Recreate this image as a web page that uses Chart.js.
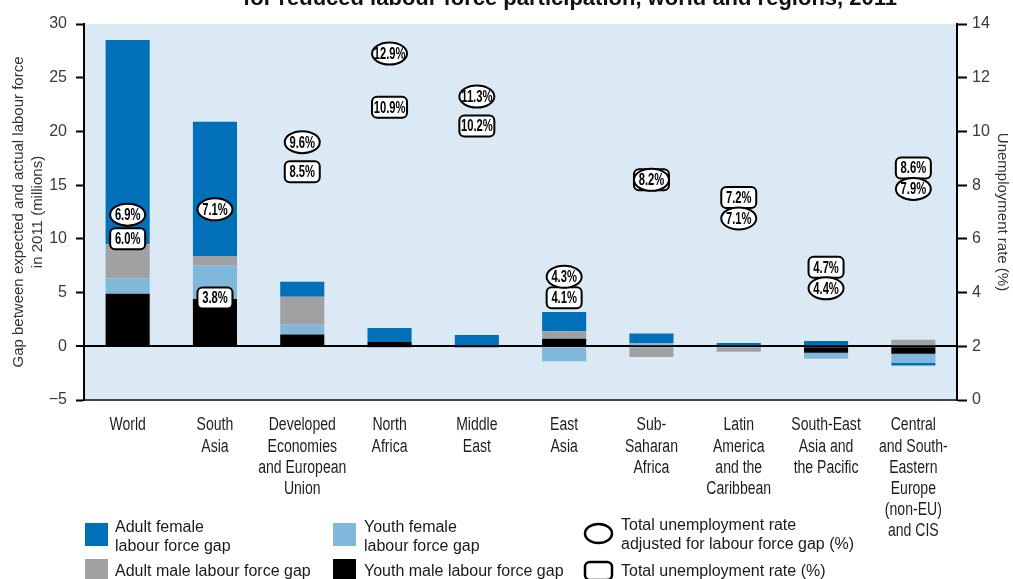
<!DOCTYPE html>
<html><head><meta charset="utf-8">
<script src="https://cdn.jsdelivr.net/npm/chart.js@4"></script>
<style>html,body{margin:0;padding:0;background:#fff;overflow:hidden}#wrap{position:relative;width:1013px;height:579px}</style>
</head><body><div id="wrap"><canvas id="c" width="1013" height="579"></canvas></div>
<script>
const titleText = 'for reduced labour force participation, world and regions, 2011';
const categories = [
  ['World'], ['South', 'Asia'], ['Developed', 'Economies', 'and European', 'Union'],
  ['North', 'Africa'], ['Middle', 'East'], ['East', 'Asia'], ['Sub-', 'Saharan', 'Africa'],
  ['Latin', 'America', 'and the', 'Caribbean'], ['South-East', 'Asia and', 'the Pacific'],
  ['Central', 'and South-', 'Eastern', 'Europe', '(non-EU)', 'and CIS']
];
const youthMale   = [4.9, 4.4, 1.1, 0.4, 0, 0.7, 0, 0, -0.6, -0.7];
const youthFemale = [1.4, 3.1, 0.9, -0.15, 0.1, -1.4, 0.3, 0, -0.55, -0.85];
const adultMale   = [3.2, 0.9, 2.6, 0, -0.15, 0.7, -1.0, -0.5, 0, 0.6];
const adultFemale = [19.0, 12.5, 1.4, 1.3, 0.95, 1.8, 0.9, 0.3, 0.5, -0.25];
const adjustedRate = [6.9, 7.1, 9.6, 12.9, 11.3, 4.3, 8.2, 7.1, 4.4, 7.9];
const totalRate    = [6.0, 3.8, 8.5, 10.9, 10.2, 4.1, 8.2, 7.2, 4.7, 8.6];
const leftTitle = ['Gap between expected and actual labour force', 'in 2011 (millions)'];
const rightTitle = 'Unemployment rate (%)';
const legendAdultFemale = ['Adult female', 'labour force gap'];
const legendYouthFemale = ['Youth female', 'labour force gap'];
const legendAdultMale = ['Adult male labour force gap'];
const legendYouthMale = ['Youth male labour force gap'];
const legendAdjusted = ['Total unemployment rate', 'adjusted for labour force gap (%)'];
const legendTotal = ['Total unemployment rate (%)'];

const C_BLUE = '#0070b8', C_LBLUE = '#80b8dc', C_GREY = '#a0a1a3', C_BLACK = '#000000';
const SANS = '"Liberation Sans", Arial, sans-serif';

function drawEllipse(ctx, x, y, rx, ry, lw) {
  ctx.beginPath(); ctx.ellipse(x, y, rx, ry, 0, 0, Math.PI * 2);
  ctx.fillStyle = '#fff'; ctx.fill(); ctx.lineWidth = lw; ctx.strokeStyle = '#000'; ctx.stroke();
}
function drawRRect(ctx, x, y, w, h, r, lw) {
  ctx.beginPath(); ctx.roundRect(x - w / 2, y - h / 2, w, h, r);
  ctx.fillStyle = '#fff'; ctx.fill(); ctx.lineWidth = lw; ctx.strokeStyle = '#000'; ctx.stroke();
}
function narrowText(ctx, text, x, y, sx) {
  ctx.save(); ctx.translate(x, y); ctx.scale(sx, 1); ctx.fillText(text, 0, 0); ctx.restore();
}

const bgPlugin = {
  id: 'bg',
  beforeDraw(chart) {
    const {ctx, chartArea: a} = chart;
    ctx.save(); ctx.fillStyle = '#dae9f3';
    ctx.fillRect(a.left, a.top, a.right - a.left, a.bottom - a.top);
    ctx.restore();
  }
};

const rateLabels = {
  id: 'rateLabels',
  afterDraw(chart) {
    const ctx = chart.ctx;
    const mE = chart.getDatasetMeta(4), mR = chart.getDatasetMeta(5);
    ctx.save();
    for (let i = 0; i < adjustedRate.length; i++) {
      const x = mE.data[i].x;
      let ye = mE.data[i].y, yr = mR.data[i].y;
      if (adjustedRate[i] !== totalRate[i] && Math.abs(ye - yr) < 21) {
        const mid = (ye + yr) / 2, s = ye < yr ? -1 : 1;
        ye = mid + s * 10.5; yr = mid - s * 10.5;
      }
      drawRRect(ctx, x, yr, 35, 21, 5, 2);
      drawEllipse(ctx, x, ye, 17.5, 11, 2);
      ctx.fillStyle = '#000'; ctx.font = 'bold 16px ' + SANS; ctx.textAlign = 'center'; ctx.textBaseline = 'middle';
      if (adjustedRate[i] === totalRate[i]) {
        narrowText(ctx, adjustedRate[i].toFixed(1) + '%', x, ye + 1, 0.7);
      } else {
        narrowText(ctx, totalRate[i].toFixed(1) + '%', x, yr + 1, 0.7);
        narrowText(ctx, adjustedRate[i].toFixed(1) + '%', x, ye + 1, 0.7);
      }
    }
    // category labels (condensed)
    const xs = chart.scales.x;
    ctx.font = '18px ' + SANS; ctx.fillStyle = '#1e1e1e'; ctx.textAlign = 'center'; ctx.textBaseline = 'middle';
    categories.forEach((lines, i) => {
      const px = xs.getPixelForValue(i);
      lines.forEach((l, k) => narrowText(ctx, l, px, chart.chartArea.bottom + 25.5 + k * 21.2, 0.78));
    });
    // title (partially cropped at top)
    ctx.font = 'bold 22px ' + SANS;
    ctx.textAlign = 'center'; ctx.textBaseline = 'alphabetic'; ctx.fillStyle = '#111';
    ctx.fillText(titleText, 570, 5);
    // legend
    ctx.font = '16px ' + SANS;
    ctx.textAlign = 'left';
    const sq = (x, y, c) => { ctx.fillStyle = c; ctx.fillRect(x, y, 23, 23); };
    const txt = (lines, x, y) => { ctx.fillStyle = '#1a1a1a'; lines.forEach((l, k) => ctx.fillText(l, x, y + k * 19)); };
    sq(85, 523, C_BLUE); txt(legendAdultFemale, 115, 532);
    sq(85, 559, C_GREY); txt(legendAdultMale, 115, 576);
    sq(333, 523, C_LBLUE); txt(legendYouthFemale, 364, 532);
    sq(333, 559, C_BLACK); txt(legendYouthMale, 364, 576);
    drawEllipse(ctx, 598.5, 533.5, 13.5, 9.5, 2.5);
    drawRRect(ctx, 598.5, 571, 27, 18, 5, 2.5);
    ctx.font = '16px ' + SANS;
    txt(legendAdjusted, 621, 530);
    txt(legendTotal, 621, 576);
    ctx.restore();
  }
};

const barDs = (label, data, color) => ({
  type: 'bar', label, data, backgroundColor: color, borderWidth: 0,
  yAxisID: 'y', barPercentage: 0.505, categoryPercentage: 1, stack: 'gap'
});

new Chart(document.getElementById('c'), {
  data: {
    labels: categories,
    datasets: [
      barDs('Youth male labour force gap', youthMale, C_BLACK),
      barDs('Youth female labour force gap', youthFemale, C_LBLUE),
      barDs('Adult male labour force gap', adultMale, C_GREY),
      barDs('Adult female labour force gap', adultFemale, C_BLUE),
      {type: 'line', label: 'Total unemployment rate adjusted for labour force gap (%)', data: adjustedRate, yAxisID: 'y1', showLine: false, pointRadius: 0},
      {type: 'line', label: 'Total unemployment rate (%)', data: totalRate, yAxisID: 'y1', showLine: false, pointRadius: 0}
    ]
  },
  options: {
    responsive: false, animation: false,
    layout: {padding: {top: 24, bottom: 0, left: 0, right: 0}},
    plugins: {legend: {display: false}, tooltip: {enabled: false}, title: {display: false}},
    scales: {
      x: {
        stacked: true, offset: true,
        grid: {display: false, drawTicks: false},
        border: {display: true, color: '#3b4450', width: 2},
        ticks: {display: false},
        afterFit(s) { s.height = 179; }
      },
      y: {
        stacked: true, position: 'left', min: -5, max: 30, z: 1,
        grid: {
          color: c => c.tick && c.tick.value === 0 ? '#000' : 'rgba(0,0,0,0)',
          lineWidth: c => c.tick && c.tick.value === 0 ? 2 : 1,
          tickColor: '#000', tickWidth: 2, tickLength: 8
        },
        border: {display: true, color: '#000', width: 2},
        ticks: {stepSize: 5, padding: 9, color: '#3a3a3a',
          font: {family: SANS, size: 16},
          callback: v => v < 0 ? '\u2212' + Math.abs(v) : String(v)},
        title: {display: true, text: leftTitle, color: '#333', padding: {top: 9, bottom: 0},
          font: {family: SANS, size: 15, lineHeight: 1.3}},
        afterFit(s) { s.width = 84; }
      },
      y1: {
        position: 'right', min: 0, max: 14,
        grid: {drawOnChartArea: false, color: '#000', tickColor: '#000', tickWidth: 2, tickLength: 10},
        border: {display: true, color: '#000', width: 2},
        ticks: {stepSize: 2, padding: 5, color: '#3a3a3a',
          font: {family: SANS, size: 16}},
        title: {display: true, text: rightTitle, color: '#333', padding: {top: 1, bottom: 0},
          font: {family: SANS, size: 15, lineHeight: 1.3}},
        afterFit(s) { s.width = 56; }
      }
    }
  },
  plugins: [bgPlugin, rateLabels]
});
</script></body></html>
